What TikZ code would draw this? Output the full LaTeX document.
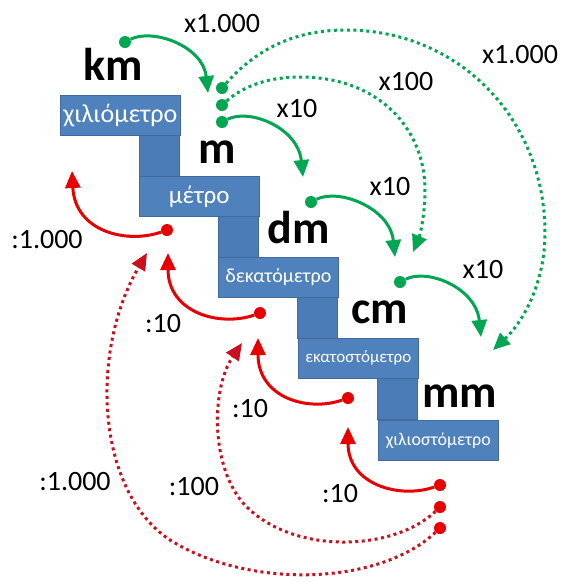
\documentclass[tikz,border=0pt]{standalone}
\usepackage{fontspec}
\setmainfont{Carlito}
\usetikzlibrary{arrows.meta}
\definecolor{grn}{RGB}{0,166,81}
\definecolor{rd}{RGB}{232,0,0}
\definecolor{drd}{RGB}{200,16,30}
\definecolor{boxblue}{RGB}{79,129,189}
\definecolor{boxedge}{RGB}{66,106,156}
\definecolor{colblue}{RGB}{76,124,182}
\begin{document}
\begin{tikzpicture}[x=1pt,y=-1pt,
  box/.style={rectangle,fill=boxblue,draw=boxedge,line width=0.6pt,minimum width=120pt,minimum height=40pt,inner sep=0pt,text=white,anchor=north west},
  colm/.style={rectangle,fill=colblue,draw=boxedge,line width=0.6pt,minimum width=40pt,minimum height=42pt,inner sep=0pt,anchor=north east},
  unit/.style={font=\fontsize{46}{50}\selectfont\bfseries,anchor=base,inner sep=0pt},
  lbl/.style={font=\fontsize{28}{30}\selectfont,anchor=base,inner sep=0pt},
  gdot/.style={circle,fill=grn,inner sep=0pt,minimum size=12pt},
  rdot/.style={circle,fill=rd,inner sep=0pt,minimum size=12pt},
  garr/.style={draw=grn,line width=3pt,-{Triangle[length=17pt,width=15pt]}},
  gdotted/.style={garr,dash pattern=on 3pt off 3.5pt},
  rarr/.style={draw=rd,line width=3pt,-{Triangle[length=17pt,width=15pt]}},
  rdotted/.style={draw=drd,line width=3pt,dash pattern=on 3pt off 3.5pt,-{Triangle[length=17pt,width=15pt]}}
]
\useasboundingbox (0,0) rectangle (563,582);

% staircase
\node[colm] (c1) at (180,134) {};
\node[colm] (c2) at (259,215) {};
\node[colm] (c3) at (338,296) {};
\node[colm] (c4) at (418,377) {};
\node[box] (b1) at (60,95) {\fontsize{26}{30}\selectfont χιλιόμετρο};
\node[box] (b2) at (139,176) {\fontsize{25}{30}\selectfont μέτρο};
\node[box] (b3) at (218,257) {\fontsize{20}{24}\selectfont δεκατόμετρο};
\node[box] (b4) at (298,338) {\fontsize{17}{20}\selectfont εκατοστόμετρο};
\node[box] (b5) at (378,420) {\fontsize{18}{21}\selectfont χιλιοστόμετρο};

% unit labels
\node[unit] (km) at (113,80) {km};
\node[unit] (m) at (217,163) {m};
\node[unit] (dm) at (299,243) {dm};
\node[unit] (cm) at (380,323) {cm};
\node[unit] (mm) at (460,407) {mm};

% green dots
\node[gdot] (g1) at (125,42) {};
\node[gdot] (g2a) at (222,88) {};
\node[gdot] (g2b) at (222,105) {};
\node[gdot] (g2c) at (222,122) {};
\node[gdot] (g3) at (311,202) {};
\node[gdot] (g4) at (400,282) {};

% red dots
\node[rdot] (r2) at (167,230) {};
\node[rdot] (r3) at (260,313) {};
\node[rdot] (r4) at (348,398) {};
\node[rdot] (r5a) at (440,485) {};
\node[rdot] (r5b) at (440,507) {};
\node[rdot] (r5c) at (440,528) {};

% tips
\coordinate (tg1) at (208,93);
\coordinate (tg2) at (303,177);
\coordinate (tg3) at (395,257);
\coordinate (tg4) at (481,337);
\coordinate (tg100) at (413,252);
\coordinate (tg1000) at (493,350);
\coordinate (tr1) at (72,171);
\coordinate (tr2) at (168,253);
\coordinate (tr3) at (258,338);
\coordinate (tr4) at (348,427);
\coordinate (tr100) at (242,343);
\coordinate (tr1000) at (147,253);

% green solid arrows
\draw[garr] (g1) .. controls (153,28) and (203,46) .. (tg1);
\draw[garr] (g2c) .. controls (250,108) and (298,128) .. (tg2);
\draw[garr] (g3) .. controls (339,188) and (390,208) .. (tg3);
\draw[garr] (g4) .. controls (428,268) and (476,288) .. (tg4);

% green dotted arrows
\draw[gdotted] (g2b) .. controls (245,85) and (270,77) .. (300,77)
   .. controls (380,77) and (425,130) .. (425,190)
   .. controls (425,215) and (420,235) .. (tg100);
\draw[gdotted] (g2a) .. controls (260,45) and (300,30) .. (346,30)
   .. controls (460,30) and (545,120) .. (545,233)
   .. controls (545,280) and (525,320) .. (tg1000);

% red solid arrows
\draw[rarr] (r2) .. controls (127,244) and (75,232) .. (tr1);
\draw[rarr] (r3) .. controls (220,327) and (168,313) .. (tr2);
\draw[rarr] (r4) .. controls (308,412) and (258,398) .. (tr3);
\draw[rarr] (r5a) .. controls (400,499) and (348,485) .. (tr4);

% red dotted arrows
\draw[rdotted] (r5b) .. controls (395,550) and (300,555) .. (250,510)
   .. controls (210,475) and (210,390) .. (tr100);
\draw[rdotted] (r5c) .. controls (380,585) and (250,590) .. (170,540)
   .. controls (95,490) and (90,350) .. (tr1000);

% labels
\node[lbl] (lx1000a) at (222,32) {x1.000};
\node[lbl] (lx10a) at (297,117) {x10};
\node[lbl] (lx10b) at (390,195) {x10};
\node[lbl] (lx10c) at (483,278) {x10};
\node[lbl] (lx100) at (406,90) {x100};
\node[lbl] (lx1000b) at (520,63) {x1.000};
\node[lbl] (ld1000a) at (47,248) {:1.000};
\node[lbl] (ld10a) at (163,332) {:10};
\node[lbl] (ld10b) at (250,417) {:10};
\node[lbl] (ld10c) at (340,502) {:10};
\node[lbl] (ld100) at (194,495) {:100};
\node[lbl] (ld1000b) at (75,490) {:1.000};
\end{tikzpicture}
\end{document}
